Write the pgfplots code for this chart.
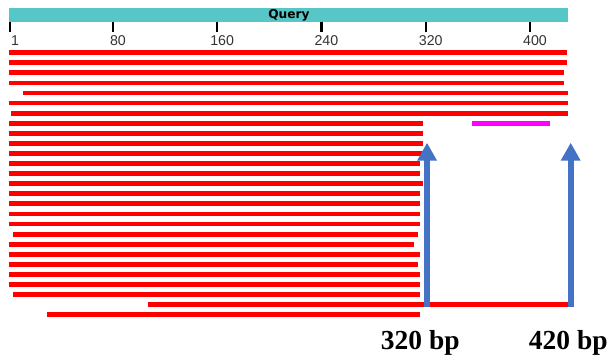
\documentclass[border=0pt]{standalone}
\usepackage{pgfplots}
\pgfplotsset{compat=1.18}
\usepackage{fontspec}
\setmainfont{Liberation Serif}
\newfontfamily\tickfont{Liberation Sans}
\newfontfamily\qfont{DejaVu Sans}
\usetikzlibrary{arrows.meta}
\definecolor{qteal}{HTML}{57C6C6}
\definecolor{arrblue}{HTML}{4472C4}
\definecolor{ticktxt}{HTML}{333333}
\definecolor{hitmag}{HTML}{FF00FF}
\begin{document}
\begin{tikzpicture}
\begin{axis}[
  name=ax,
  scale only axis,
  width=610pt, height=358pt,
  xmin=-6.675, xmax=461.37,
  ymin=0, ymax=358,
  hide axis,
  clip=false,
]
% Query bar
\addplot[qteal, line width=13.4pt] coordinates {(0,343) (429.4,343)};
\node[font=\qfont\bfseries\fontsize{12.2}{12.2}\selectfont, anchor=base] at (axis cs:215,339.5) {Query};
% ruler ticks
\addplot[black, line width=2.1pt, unbounded coords=jump] coordinates {
(1,336.3) (1,325.7) (1,nan)
(80,336.3) (80,325.7) (80,nan)
(160,336.3) (160,325.7) (160,nan)
(240,336.3) (240,325.7) (240,nan)
(320,336.3) (320,325.7) (320,nan)
(400,336.3) (400,325.7)
};
\foreach \t in {1,80,160,240,320,400}{
  \edef\tmp{\noexpand\node[font=\noexpand\tickfont\noexpand\fontsize{14.2}{14.2}\noexpand\selectfont, text=ticktxt, anchor=base] at (axis cs:\t+3.8,312.3) {\t};}
  \tmp
}
% hits
\addplot[red, line width=4.8pt, unbounded coords=jump] coordinates {
(0,305.30) (428.4,305.30) (0,nan)
(0,295.22) (428.4,295.22) (0,nan)
(0,285.14) (425.8,285.14) (0,nan)
(0,275.06) (425.8,275.06) (0,nan)
(11.2,264.98) (429.4,264.98) (0,nan)
(0,254.90) (429.4,254.90) (0,nan)
(2,244.82) (429.4,244.82) (0,nan)
(0,234.74) (317.7,234.74) (0,nan)
(0,224.66) (317.7,224.66) (0,nan)
(0,214.58) (317.7,214.58) (0,nan)
(0,204.50) (317.7,204.50) (0,nan)
(0,194.42) (315.2,194.42) (0,nan)
(0,184.34) (315.2,184.34) (0,nan)
(0,174.26) (317.7,174.26) (0,nan)
(0,164.18) (315.2,164.18) (0,nan)
(0,154.10) (315.2,154.10) (0,nan)
(0,144.02) (315.2,144.02) (0,nan)
(0,133.94) (315.2,133.94) (0,nan)
(3.5,123.86) (314,123.86) (0,nan)
(0,113.78) (311.3,113.78) (0,nan)
(0,103.70) (315.2,103.70) (0,nan)
(0,93.62) (314,93.62) (0,nan)
(0,83.54) (315.2,83.54) (0,nan)
(0,73.46) (315.2,73.46) (0,nan)
(3.5,63.38) (315.2,63.38) (0,nan)
(106.6,53.30) (429.4,53.30) (0,nan)
(29.4,43.22) (315.2,43.22)
};
\addplot[hitmag, line width=4.8pt] coordinates {(355.7,234.74) (415.3,234.74)};
% arrows
\addplot[arrblue, line width=6.3pt, -{Triangle[width=18.7pt,length=18pt]}] coordinates {(321,50.7) (321,215.3)};
\addplot[arrblue, line width=6.3pt, -{Triangle[width=18.7pt,length=18pt]}] coordinates {(431.2,50.7) (431.2,215.3)};
\node[font=\bfseries\fontsize{27.5}{27.5}\selectfont, anchor=base] at (axis cs:315.8,8) {320 bp};
\node[font=\bfseries\fontsize{27.5}{27.5}\selectfont, anchor=base] at (axis cs:429.4,8) {420 bp};
\end{axis}
\pgfresetboundingbox
\path (ax.south west) rectangle (ax.north east);
\end{tikzpicture}
\end{document}
